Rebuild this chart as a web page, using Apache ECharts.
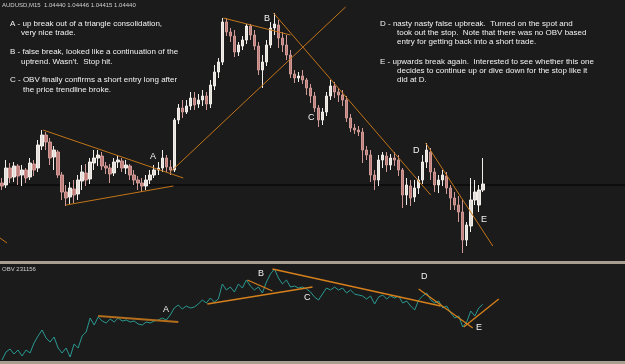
<!DOCTYPE html>
<html>
<head>
<meta charset="utf-8">
<title>AUDUSD M15 with OBV</title>
<style>
  html, body { margin: 0; padding: 0; background: #1b1b1b; }
  #chart { width: 625px; height: 364px; }
</style>
<script src="https://cdn.jsdelivr.net/npm/echarts@6/dist/echarts.min.js"></script>
</head>
<body>
<div id="chart"></div>
<script>
// AUDUSD,M15 candles: [open, close, low, high]
const candles = [
  [1.04448, 1.04436, 1.04420, 1.04468], [1.04440, 1.04508, 1.04428, 1.04540],
  [1.04508, 1.04468, 1.04448, 1.04528], [1.04472, 1.04516, 1.04452, 1.04532],
  [1.04516, 1.04476, 1.04440, 1.04524], [1.04480, 1.04500, 1.04436, 1.04520],
  [1.04500, 1.04468, 1.04448, 1.04508], [1.04472, 1.04528, 1.04460, 1.04548],
  [1.04524, 1.04500, 1.04476, 1.04540], [1.04508, 1.04600, 1.04492, 1.04620],
  [1.04596, 1.04640, 1.04580, 1.04660], [1.04640, 1.04612, 1.04580, 1.04652],
  [1.04612, 1.04548, 1.04520, 1.04628], [1.04552, 1.04580, 1.04500, 1.04596],
  [1.04572, 1.04480, 1.04468, 1.04580], [1.04480, 1.04412, 1.04380, 1.04492],
  [1.04412, 1.04388, 1.04356, 1.04440], [1.04392, 1.04428, 1.04364, 1.04452],
  [1.04424, 1.04400, 1.04368, 1.04460], [1.04404, 1.04460, 1.04380, 1.04480],
  [1.04456, 1.04492, 1.04420, 1.04520], [1.04488, 1.04460, 1.04436, 1.04524],
  [1.04464, 1.04532, 1.04444, 1.04548], [1.04528, 1.04548, 1.04500, 1.04580],
  [1.04548, 1.04560, 1.04516, 1.04580], [1.04556, 1.04516, 1.04500, 1.04572],
  [1.04516, 1.04508, 1.04484, 1.04532], [1.04508, 1.04484, 1.04448, 1.04524],
  [1.04488, 1.04532, 1.04476, 1.04548], [1.04532, 1.04540, 1.04508, 1.04560],
  [1.04536, 1.04508, 1.04492, 1.04548], [1.04508, 1.04520, 1.04484, 1.04540],
  [1.04516, 1.04480, 1.04460, 1.04524], [1.04480, 1.04460, 1.04440, 1.04500],
  [1.04460, 1.04448, 1.04420, 1.04476], [1.04448, 1.04436, 1.04412, 1.04468],
  [1.04436, 1.04460, 1.04420, 1.04480], [1.04460, 1.04480, 1.04444, 1.04500],
  [1.04480, 1.04500, 1.04468, 1.04520], [1.04500, 1.04508, 1.04480, 1.04532],
  [1.04508, 1.04548, 1.04492, 1.04580], [1.04548, 1.04512, 1.04492, 1.04560],
  [1.04512, 1.04500, 1.04480, 1.04540], [1.04500, 1.04700, 1.04492, 1.04708],
  [1.04700, 1.04748, 1.04684, 1.04764], [1.04748, 1.04732, 1.04708, 1.04780],
  [1.04732, 1.04756, 1.04724, 1.04780], [1.04756, 1.04788, 1.04740, 1.04812],
  [1.04788, 1.04760, 1.04740, 1.04812], [1.04764, 1.04780, 1.04748, 1.04804],
  [1.04780, 1.04796, 1.04756, 1.04820], [1.04796, 1.04764, 1.04740, 1.04812],
  [1.04764, 1.04840, 1.04748, 1.04860], [1.04836, 1.04892, 1.04820, 1.04920],
  [1.04892, 1.04932, 1.04868, 1.04948], [1.04932, 1.05092, 1.04920, 1.05108],
  [1.05092, 1.05052, 1.05036, 1.05108], [1.05052, 1.05036, 1.05012, 1.05068],
  [1.05036, 1.04972, 1.04952, 1.05060], [1.04972, 1.05000, 1.04956, 1.05012],
  [1.04996, 1.05020, 1.04980, 1.05036], [1.05020, 1.05076, 1.05004, 1.05084],
  [1.05076, 1.05040, 1.05020, 1.05084], [1.05040, 1.04996, 1.04980, 1.05060],
  [1.04996, 1.04900, 1.04880, 1.05012], [1.04900, 1.04932, 1.04828, 1.04960],
  [1.04932, 1.05000, 1.04916, 1.05020], [1.05000, 1.05068, 1.04988, 1.05092],
  [1.05068, 1.05084, 1.05040, 1.05128], [1.05080, 1.05028, 1.04988, 1.05100],
  [1.05028, 1.05000, 1.04972, 1.05052], [1.05000, 1.04960, 1.04940, 1.05040],
  [1.04960, 1.04884, 1.04868, 1.04980], [1.04884, 1.04868, 1.04848, 1.04900],
  [1.04868, 1.04876, 1.04852, 1.04892], [1.04876, 1.04860, 1.04844, 1.04900],
  [1.04860, 1.04828, 1.04800, 1.04868], [1.04828, 1.04796, 1.04768, 1.04844],
  [1.04796, 1.04748, 1.04732, 1.04812], [1.04748, 1.04700, 1.04672, 1.04760],
  [1.04700, 1.04732, 1.04680, 1.04748], [1.04732, 1.04796, 1.04716, 1.04812],
  [1.04796, 1.04836, 1.04780, 1.04860], [1.04836, 1.04812, 1.04788, 1.04852],
  [1.04812, 1.04800, 1.04772, 1.04828], [1.04800, 1.04780, 1.04756, 1.04820],
  [1.04780, 1.04708, 1.04692, 1.04796], [1.04708, 1.04668, 1.04652, 1.04724],
  [1.04668, 1.04660, 1.04644, 1.04684], [1.04660, 1.04652, 1.04636, 1.04676],
  [1.04652, 1.04580, 1.04528, 1.04668], [1.04580, 1.04560, 1.04540, 1.04596],
  [1.04560, 1.04480, 1.04452, 1.04580], [1.04480, 1.04460, 1.04420, 1.04500],
  [1.04460, 1.04540, 1.04436, 1.04560], [1.04540, 1.04560, 1.04508, 1.04572],
  [1.04556, 1.04520, 1.04492, 1.04572], [1.04520, 1.04548, 1.04500, 1.04564],
  [1.04548, 1.04540, 1.04516, 1.04572], [1.04540, 1.04500, 1.04476, 1.04560],
  [1.04500, 1.04400, 1.04348, 1.04508], [1.04400, 1.04440, 1.04360, 1.04468],
  [1.04436, 1.04388, 1.04356, 1.04460], [1.04392, 1.04428, 1.04372, 1.04460],
  [1.04428, 1.04460, 1.04404, 1.04476], [1.04460, 1.04532, 1.04444, 1.04560],
  [1.04532, 1.04580, 1.04508, 1.04608], [1.04572, 1.04492, 1.04460, 1.04588],
  [1.04492, 1.04440, 1.04412, 1.04508], [1.04440, 1.04460, 1.04408, 1.04480],
  [1.04460, 1.04480, 1.04436, 1.04500], [1.04476, 1.04428, 1.04404, 1.04492],
  [1.04428, 1.04388, 1.04340, 1.04440], [1.04388, 1.04360, 1.04340, 1.04412],
  [1.04360, 1.04332, 1.04292, 1.04396], [1.04332, 1.04220, 1.04168, 1.04380],
  [1.04220, 1.04280, 1.04196, 1.04292], [1.04276, 1.04380, 1.04252, 1.04468],
  [1.04380, 1.04412, 1.04360, 1.04460], [1.04360, 1.04420, 1.04332, 1.04440],
  [1.04420, 1.04444, 1.04412, 1.04548]
];

// OBV, one value per candle
const obv = [
  120000, 136000, 142000, 132000, 140000, 128000, 140000, 134000, 154000, 168000,
  180000, 164000, 156000, 166000, 144000, 134000, 144000, 126000, 152000, 144000,
  168000, 176000, 204000, 190000, 206000, 198000, 194000, 202000, 196000, 204000,
  198000, 200000, 196000, 198000, 192000, 190000, 196000, 194000, 198000, 200000,
  204000, 200000, 210000, 224000, 230000, 222000, 228000, 224000, 226000, 232000,
  240000, 234000, 244000, 236000, 242000, 272000, 260000, 266000, 256000, 272000,
  264000, 280000, 268000, 260000, 266000, 254000, 276000, 292000, 302000, 284000,
  272000, 280000, 266000, 268000, 264000, 266000, 262000, 256000, 246000, 240000,
  252000, 264000, 260000, 266000, 260000, 264000, 254000, 260000, 252000, 250000,
  248000, 242000, 248000, 232000, 246000, 250000, 242000, 248000, 244000, 248000,
  234000, 238000, 228000, 220000, 240000, 248000, 254000, 240000, 234000, 238000,
  224000, 228000, 214000, 204000, 208000, 186000, 196000, 218000, 208000, 224000,
  231156
];

// hand-drawn trend lines, [[bar index, value], [bar index, value]]
const priceLines = [
  [[10.25, 1.04660], [45.25, 1.04468]],
  [[16, 1.04360], [42.75, 1.04436]],
  [[42, 1.04492], [85.75, 1.05152]],
  [[-0.5, 1.04228], [1.25, 1.04208]],
  [[55.25, 1.05108], [72, 1.05040]],
  [[67.75, 1.05128], [107, 1.04400]],
  [[105.75, 1.04608], [122.5, 1.04196]]
];
const obvLines = [
  [[24, 208000], [44, 196000]],
  [[51.25, 232000], [77.5, 266000]],
  [[61.25, 280000], [67.5, 258000]],
  [[67.5, 302000], [109.5, 228000]],
  [[104, 262000], [117.5, 184000]],
  [[115.25, 186000], [124, 242000]]
];

const lastPrice = 1.0444;
const header = 'AUDUSD,M15  1.04440 1.04446 1.04415 1.04440';
const obvHeader = 'OBV 231156';

const notesLeft = [
  'A - up break out of a triangle consolidation,',
  'very nice trade.',
  'B - false break, looked like a continuation of the',
  "uptrend. Wasn't.  Stop hit.",
  'C - OBV finally confirms a short entry long after',
  'the price trendline broke.'
];
const notesRight = [
  'D - nasty nasty false upbreak.  Turned on the spot and',
  'took out the stop.  Note that there was no OBV based',
  'entry for getting back into a short trade.',
  'E - upwards break again.  Interested to see whether this one',
  'decides to continue up or dive down for the stop like it',
  'did at D.'
];

// chart has room for more bars than are drawn (empty space on the right)
const slots = 156;
const categories = [];
for (let i = 0; i < slots; i++) {
  const m = 9 * 60 + i * 15;
  const hh = String(Math.floor(m / 60) % 24).padStart(2, '0');
  const mm = String(m % 60).padStart(2, '0');
  categories.push(hh + ':' + mm);
}

const FONT = '"Liberation Sans", Arial, sans-serif';
const W = 625;

const chart = echarts.init(document.getElementById('chart'), null, { renderer: 'canvas' });

const textEl = (text, x, y, size, color) => ({
  type: 'text',
  x: x,
  y: y,
  silent: true,
  style: {
    text: text,
    fill: color || '#f2f2f2',
    font: size + 'px ' + FONT,
    textVerticalAlign: 'middle',
    verticalAlign: 'middle'
  }
});

const noteY = [24, 33, 52, 62, 80, 90];
const noteXL = [10, 21, 10, 21, 10, 23];
const noteYR = [24, 33, 42, 62, 71, 80];
const noteXR = [380, 397, 397, 380, 397, 397];

const graphics = [
  { type: 'rect', shape: { x: 0, y: 261, width: W, height: 3 }, style: { fill: '#a89f90' }, silent: true },
  { type: 'rect', shape: { x: 0, y: 361, width: W, height: 3 }, style: { fill: '#a89f90' }, silent: true },
  textEl(header, 2, 5, 6, '#cfcfcf'),
  textEl(obvHeader, 2, 269, 6, '#cfcfcf')
];
notesLeft.forEach((t, i) => graphics.push(textEl(t, noteXL[i], noteY[i], 8)));
notesRight.forEach((t, i) => graphics.push(textEl(t, noteXR[i], noteYR[i], 8)));

// letter markers
[['A', 150, 157], ['B', 264, 19], ['C', 308, 118], ['D', 413, 151], ['E', 481, 220],
 ['A', 163, 310], ['B', 258, 274], ['C', 304, 298], ['D', 421, 277], ['E', 476, 328]]
  .forEach(l => graphics.push(textEl(l[0], l[1], l[2], 9)));

const lineSeries = (pts, xi, yi, color, width, z) => ({
  type: 'line',
  xAxisIndex: xi,
  yAxisIndex: yi,
  data: pts,
  symbol: 'none',
  silent: true,
  lineStyle: { color: color, width: width },
  z: z === undefined ? 5 : z
});

const option = {
  backgroundColor: '#1b1b1b',
  animation: false,
  grid: [
    { left: 0, right: 0, top: 0, height: 258 },
    { left: 0, right: 0, top: 266, height: 94 }
  ],
  xAxis: [
    { type: 'category', gridIndex: 0, data: categories, show: false, boundaryGap: true },
    { type: 'value', gridIndex: 0, min: -0.5, max: slots - 0.5, show: false },
    { type: 'category', gridIndex: 1, data: categories, show: false, boundaryGap: true },
    { type: 'value', gridIndex: 1, min: -0.5, max: slots - 0.5, show: false }
  ],
  yAxis: [
    { type: 'value', gridIndex: 0, min: 1.04148, max: 1.0518, show: false },
    { type: 'value', gridIndex: 1, min: 120000, max: 308000, show: false }
  ],
  series: [
    // current price line across the whole price panel
    lineSeries([[-0.5, lastPrice], [slots - 0.5, lastPrice]], 1, 0, '#000000', 1, 1),
    {
      type: 'candlestick',
      xAxisIndex: 0,
      yAxisIndex: 0,
      data: candles,
      barWidth: 3,
      itemStyle: {
        color: '#e4dfda',
        color0: '#c07e7a',
        borderColor: '#f2eeea',
        borderColor0: '#d09a96',
        borderWidth: 1
      },
      z: 3
    },
    {
      type: 'line',
      xAxisIndex: 2,
      yAxisIndex: 1,
      data: obv,
      symbol: 'none',
      silent: true,
      lineStyle: { color: '#2a9a92', width: 1 }
    }
  ]
    .concat(priceLines.map(p => lineSeries(p, 1, 0, '#c27418', 1)))
    .concat(obvLines.map((p, i) => lineSeries(p, 3, 1, i === 0 ? '#b36e1c' : '#d6801c', i === 0 ? 2 : 1.3))),
  graphic: graphics
};

chart.setOption(option);
window.addEventListener('resize', () => chart.resize());
</script>
</body>
</html>
